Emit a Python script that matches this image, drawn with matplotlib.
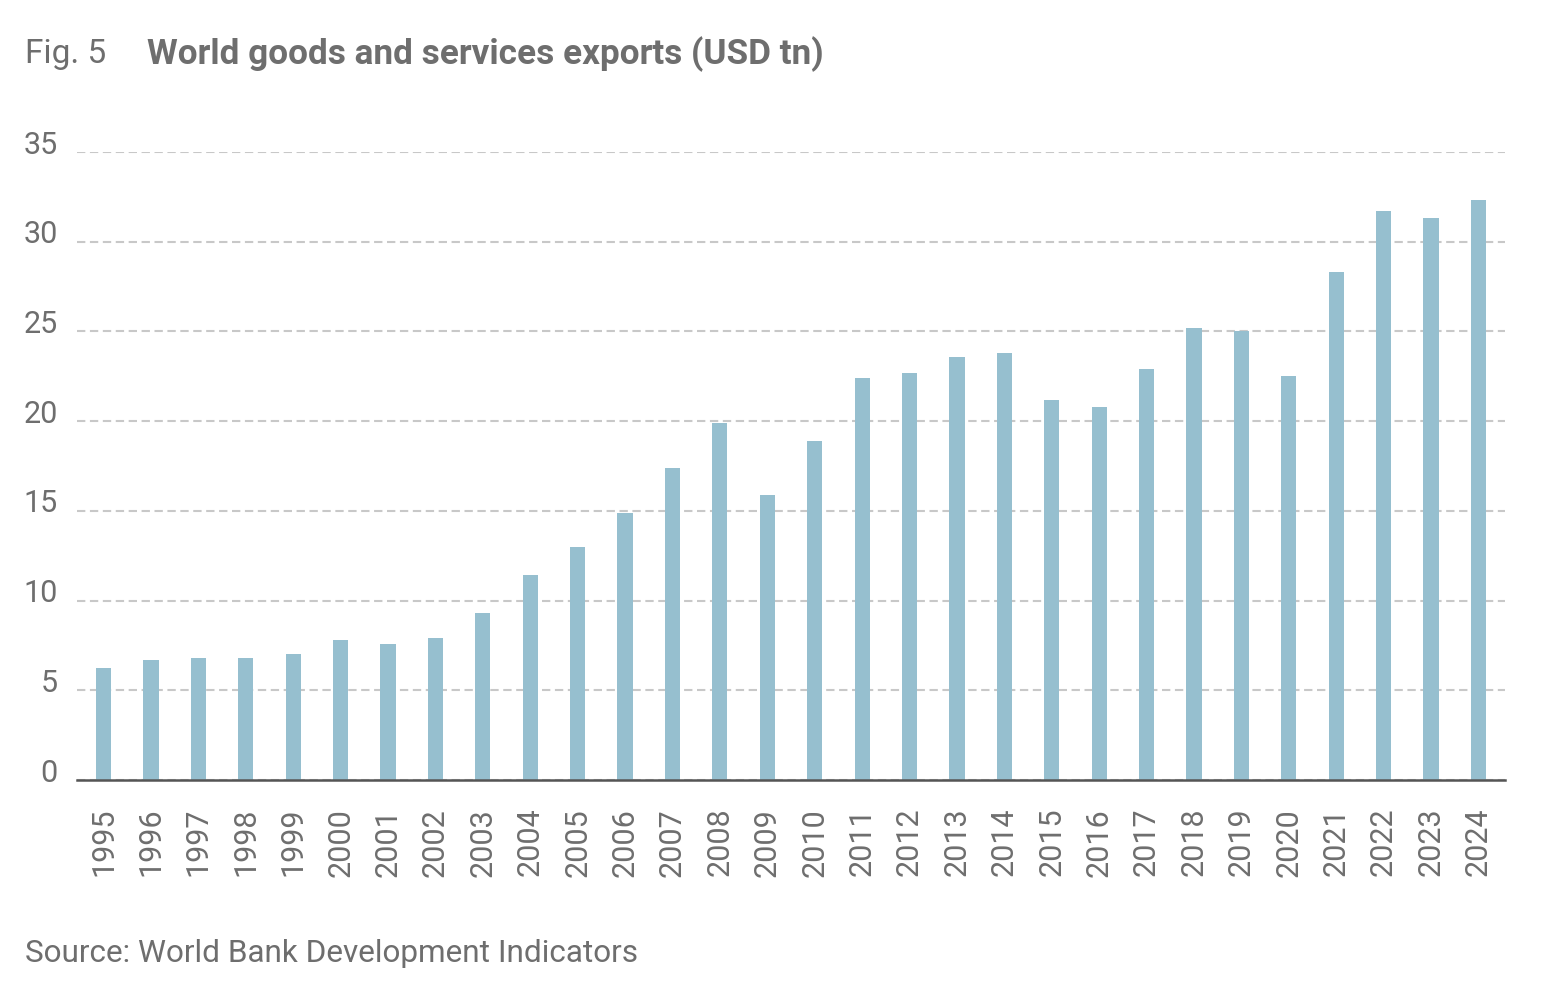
import matplotlib
matplotlib.use('Agg')
import matplotlib.pyplot as plt
import matplotlib.transforms as mtransforms
import numpy as np

# data (USD tn)
years = [str(y) for y in range(1995, 2025)]
exports = [6.25, 6.7, 6.8, 6.8, 7.0, 7.8, 7.6, 7.9, 9.3, 11.4,
           13.0, 14.9, 17.4, 19.9, 15.9, 18.9, 22.4, 22.7, 23.6, 23.8,
           21.2, 20.8, 22.9, 25.2, 25.0, 22.5, 28.3, 31.7, 31.3, 32.3]
yticks = [0, 5, 10, 15, 20, 25, 30, 35]

bar_color = '#96bfcf'
text_gray = '#6e6e6e'

plt.rcParams['font.family'] = ['Roboto', 'DejaVu Sans']

fig = plt.figure(figsize=(15.6, 10), dpi=100)
ax = fig.add_axes([0.0494, 0.22, 0.9153, 0.628])

x = np.arange(len(years))
ax.bar(x, exports, width=0.32, color=bar_color, zorder=3)

ax.set_xlim(-0.56, len(years) - 1 + 0.56)
ax.set_ylim(0, 35)
ax.set_yticks(yticks)
ax.set_xticks(x)
ax.set_xticklabels(years, rotation=90)

ax.grid(axis='y', linestyle=(0, (4, 2.2)), color='#c8c8c8', linewidth=1.5, zorder=0)
for s in ['top', 'right', 'left']:
    ax.spines[s].set_visible(False)
ax.spines['bottom'].set_color('#555555')
ax.spines['bottom'].set_linewidth(1.8)
ax.spines['bottom'].set_zorder(4)

ax.tick_params(axis='y', length=0, pad=14, labelsize=22, labelcolor=text_gray)
ax.tick_params(axis='x', length=0, pad=20, labelsize=22, labelcolor=text_gray)

# y labels sit a bit above their gridlines
offset = mtransforms.ScaledTranslation(0, 10 / 100, fig.dpi_scale_trans)
for lab in ax.get_yticklabels():
    lab.set_transform(lab.get_transform() + offset)

fig.text(0.016, 0.946, 'Fig. 5', fontsize=24, color=text_gray, va='center')
fig.text(0.094, 0.946, 'World goods and services exports (USD tn)', fontsize=25.3,
         fontweight='bold', color=text_gray, va='center')
fig.text(0.016, 0.046, 'Source: World Bank Development Indicators', fontsize=22.7,
         color=text_gray, va='center')

fig.savefig('out.png', dpi=100, facecolor='white')
